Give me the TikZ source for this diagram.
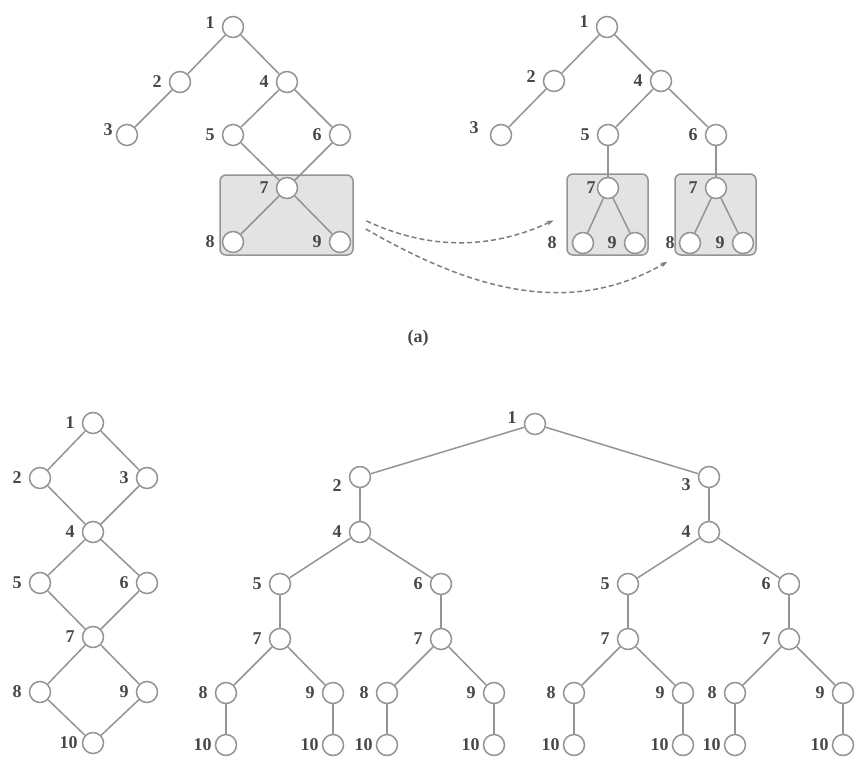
\documentclass[tikz,border=0pt]{standalone}
\usepackage{fontspec}
\setmainfont{Liberation Serif}
\usepackage{tikz}
\usetikzlibrary{arrows.meta}
\definecolor{edgegray}{rgb}{0.58,0.58,0.58}
\definecolor{boxgray}{rgb}{0.89,0.89,0.89}
\definecolor{labelgray}{rgb}{0.28,0.28,0.28}

\begin{document}
\begin{tikzpicture}[x=1pt, y=1pt,
    vert/.style={circle, draw=edgegray, fill=white, line width=1.5pt, minimum size=21pt, inner sep=0pt},
    lbl/.style={font=\fontsize{18}{18}\selectfont\bfseries, text=labelgray, inner sep=1pt},
    every label/.style={lbl},
    label distance=6pt,
    edge/.style={draw=edgegray, line width=1.5pt},
    grpbox/.style={draw=edgegray, fill=boxgray, rounded corners=6pt, line width=1.5pt, inner sep=0pt},
    copyarr/.style={-{Stealth[length=7pt,width=5pt]}, dash pattern=on 5pt off 3pt, draw=edgegray!85!black, line width=1.5pt, shorten <=14pt, shorten >=14pt}
]
\useasboundingbox (0,0) rectangle (859,-765);

% (a) left: shared subgraph
\node[grpbox, minimum width=133pt, minimum height=80pt] (Box) at (286.5,-215) {};
\node[vert, label={[yshift=4pt]left:1}] (A1) at (233,-27) {};
\node[vert, label=left:2] (A2) at (180,-82) {};
\node[vert, label=left:4] (A4) at (287,-82) {};
\node[vert, label={[yshift=5pt, label distance=2pt]left:3}] (A3) at (127,-135) {};
\node[vert, label=left:5] (A5) at (233,-135) {};
\node[vert, label=left:6] (A6) at (340,-135) {};
\node[vert, label=left:7] (A7) at (287,-188) {};
\node[vert, label=left:8] (A8) at (233,-242) {};
\node[vert, label=left:9] (A9) at (340,-242) {};

\draw[edge] (A1) -- (A2);
\draw[edge] (A2) -- (A3);
\draw[edge] (A1) -- (A4);
\draw[edge] (A4) -- (A5);
\draw[edge] (A4) -- (A6);
\draw[edge] (A5) -- (A7);
\draw[edge] (A6) -- (A7);
\draw[edge] (A7) -- (A8);
\draw[edge] (A7) -- (A9);

% (a) right: copied subgraphs
\node[grpbox, minimum width=81pt, minimum height=81pt] (BoxA) at (607.5,-214.5) {};
\node[grpbox, minimum width=81pt, minimum height=81pt] (BoxB) at (715.5,-214.5) {};
\node[vert, label={[yshift=5pt]left:1}] (B1) at (607,-27) {};
\node[vert, label={[yshift=4pt]left:2}] (B2) at (554,-81) {};
\node[vert, label=left:4] (B4) at (661,-81) {};
\node[vert, label={[yshift=7pt, label distance=10pt]left:3}] (B3) at (501,-135) {};
\node[vert, label=left:5] (B5) at (608,-135) {};
\node[vert, label=left:6] (B6) at (716,-135) {};
\node[vert, label={[label distance=0pt]left:7}] (B7) at (608,-188) {};
\node[vert, label={[label distance=14pt]left:8}] (B8) at (583,-243) {};
\node[vert, label=left:9] (B9) at (635,-243) {};
\node[vert, label=left:7] (B7b) at (716,-188) {};
\node[vert, label={[label distance=3pt]left:8}] (B8b) at (690,-243) {};
\node[vert, label=left:9] (B9b) at (743,-243) {};

\draw[edge] (B1) -- (B2);
\draw[edge] (B2) -- (B3);
\draw[edge] (B1) -- (B4);
\draw[edge] (B4) -- (B5);
\draw[edge] (B4) -- (B6);
\draw[edge] (B5) -- (B7);
\draw[edge] (B6) -- (B7b);
\draw[edge] (B7) -- (B8);
\draw[edge] (B7) -- (B9);
\draw[edge] (B7b) -- (B8b);
\draw[edge] (B7b) -- (B9b);

\draw[copyarr] (Box.east) to[out=-25, in=205] (BoxA.west);
\draw[copyarr, shorten >=8pt] ([yshift=-7pt]Box.east) to[out=-30, in=210] ([yshift=-2pt]BoxB.south west);

\node[lbl] (Cap) at (418,-338) {(a)};

% bottom left: DAG
\node[vert, label=left:1] (C1) at (93,-423) {};
\node[vert, label=left:2] (C2) at (40,-478) {};
\node[vert, label=left:3] (C3) at (147,-478) {};
\node[vert, label=left:4] (C4) at (93,-532) {};
\node[vert, label=left:5] (C5) at (40,-583) {};
\node[vert, label=left:6] (C6) at (147,-583) {};
\node[vert, label=left:7] (C7) at (93,-637) {};
\node[vert, label=left:8] (C8) at (40,-692) {};
\node[vert, label=left:9] (C9) at (147,-692) {};
\node[vert, label={[label distance=3pt]left:10}] (C10) at (93,-743) {};

\draw[edge] (C1) -- (C2);
\draw[edge] (C1) -- (C3);
\draw[edge] (C2) -- (C4);
\draw[edge] (C3) -- (C4);
\draw[edge] (C4) -- (C5);
\draw[edge] (C4) -- (C6);
\draw[edge] (C5) -- (C7);
\draw[edge] (C6) -- (C7);
\draw[edge] (C7) -- (C8);
\draw[edge] (C7) -- (C9);
\draw[edge] (C8) -- (C10);
\draw[edge] (C9) -- (C10);

% bottom right: unfolded tree
\node[vert, label={[yshift=6pt]left:1}] (D1) at (535,-424) {};
\node[vert, label={[yshift=-9pt]left:2}] (D2) at (360,-477) {};
\node[vert, label={[yshift=-8pt]left:3}] (D3) at (709,-477) {};
\node[vert, label=left:4] (D4a) at (360,-532) {};
\node[vert, label=left:4] (D4b) at (709,-532) {};
\node[vert, label=left:5] (D5a) at (280,-584) {};
\node[vert, label=left:6] (D6a) at (441,-584) {};
\node[vert, label=left:5] (D5b) at (628,-584) {};
\node[vert, label=left:6] (D6b) at (789,-584) {};
\node[vert, label=left:7] (D7a) at (280,-639) {};
\node[vert, label=left:7] (D7b) at (441,-639) {};
\node[vert, label=left:7] (D7c) at (628,-639) {};
\node[vert, label=left:7] (D7d) at (789,-639) {};
\node[vert, label=left:8] (D8a) at (226,-693) {};
\node[vert, label=left:9] (D9a) at (333,-693) {};
\node[vert, label=left:8] (D8b) at (387,-693) {};
\node[vert, label=left:9] (D9b) at (494,-693) {};
\node[vert, label=left:8] (D8c) at (574,-693) {};
\node[vert, label=left:9] (D9c) at (683,-693) {};
\node[vert, label=left:8] (D8d) at (735,-693) {};
\node[vert, label=left:9] (D9d) at (843,-693) {};
\node[vert, label={[label distance=2pt]left:10}] (D10a) at (226,-745) {};
\node[vert, label={[label distance=2pt]left:10}] (D10b) at (333,-745) {};
\node[vert, label={[label distance=2pt]left:10}] (D10c) at (387,-745) {};
\node[vert, label={[label distance=2pt]left:10}] (D10d) at (494,-745) {};
\node[vert, label={[label distance=2pt]left:10}] (D10e) at (574,-745) {};
\node[vert, label={[label distance=2pt]left:10}] (D10f) at (683,-745) {};
\node[vert, label={[label distance=2pt]left:10}] (D10g) at (735,-745) {};
\node[vert, label={[label distance=2pt]left:10}] (D10h) at (843,-745) {};

\draw[edge] (D1) -- (D2);
\draw[edge] (D1) -- (D3);
\draw[edge] (D2) -- (D4a);
\draw[edge] (D3) -- (D4b);
\draw[edge] (D4a) -- (D5a);
\draw[edge] (D4a) -- (D6a);
\draw[edge] (D4b) -- (D5b);
\draw[edge] (D4b) -- (D6b);
\draw[edge] (D5a) -- (D7a);
\draw[edge] (D6a) -- (D7b);
\draw[edge] (D5b) -- (D7c);
\draw[edge] (D6b) -- (D7d);
\draw[edge] (D7a) -- (D8a);
\draw[edge] (D7a) -- (D9a);
\draw[edge] (D7b) -- (D8b);
\draw[edge] (D7b) -- (D9b);
\draw[edge] (D7c) -- (D8c);
\draw[edge] (D7c) -- (D9c);
\draw[edge] (D7d) -- (D8d);
\draw[edge] (D7d) -- (D9d);
\draw[edge] (D8a) -- (D10a);
\draw[edge] (D9a) -- (D10b);
\draw[edge] (D8b) -- (D10c);
\draw[edge] (D9b) -- (D10d);
\draw[edge] (D8c) -- (D10e);
\draw[edge] (D9c) -- (D10f);
\draw[edge] (D8d) -- (D10g);
\draw[edge] (D9d) -- (D10h);
\end{tikzpicture}
\end{document}
